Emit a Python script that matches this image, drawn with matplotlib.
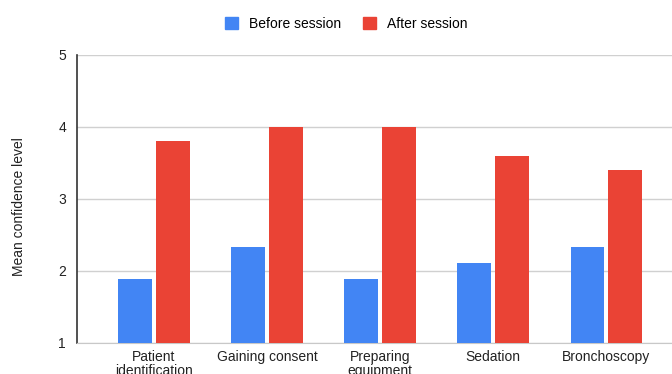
import matplotlib

matplotlib.use("Agg")
import matplotlib.pyplot as plt
import numpy as np
from matplotlib.patches import Patch

plt.rcParams["font.family"] = ["Liberation Sans", "DejaVu Sans"]

categories = [
    "Patient\nidentification",
    "Gaining consent",
    "Preparing\nequipment",
    "Sedation",
    "Bronchoscopy",
]
before_session = [1.89, 2.33, 1.89, 2.11, 2.33]
after_session = [3.8, 4.0, 4.0, 3.6, 3.4]

BLUE = "#4285F4"
RED = "#EA4335"

fig = plt.figure(figsize=(6.72, 3.74), dpi=100)
ax = fig.add_axes([0.1146, 0.0829, 0.8854, 0.7701])

x = np.arange(len(categories))
width = 0.30
ax.bar(x - 0.167, np.array(before_session) - 1, width, bottom=1, color=BLUE, zorder=3)
ax.bar(x + 0.165, np.array(after_session) - 1, width, bottom=1, color=RED, zorder=3)

ax.set_ylim(1, 5)
ax.set_xlim(-0.68, 4.58)
ax.set_yticks([1, 2, 3, 4, 5])
ax.yaxis.grid(True, color="#d0d0d0", linewidth=1, zorder=0)
ax.set_xticks(x)
ax.set_xticklabels(categories, fontsize=10, color="#222222", linespacing=1.0)
ax.tick_params(axis="x", length=0, pad=5)
ax.tick_params(axis="y", length=0, pad=8, labelsize=10, labelcolor="#222222")

for side in ["top", "right"]:
    ax.spines[side].set_visible(False)
ax.spines["bottom"].set_color("#c8c8c8")
ax.spines["left"].set_color("#333333")
ax.spines["left"].set_linewidth(1.2)

ax.set_ylabel("Mean confidence level", fontsize=10, color="#222222")
ax.yaxis.set_label_coords(-0.086, 0.472)

handles = [Patch(color=BLUE, label="Before session"), Patch(color=RED, label="After session")]
fig.legend(
    handles=handles,
    loc="center",
    bbox_to_anchor=(0.515, 0.936),
    ncol=2,
    frameon=False,
    fontsize=10,
    handlelength=0.9,
    handleheight=0.9,
    handletextpad=0.8,
    columnspacing=1.6,
)

fig.savefig("out.png", dpi=100)
